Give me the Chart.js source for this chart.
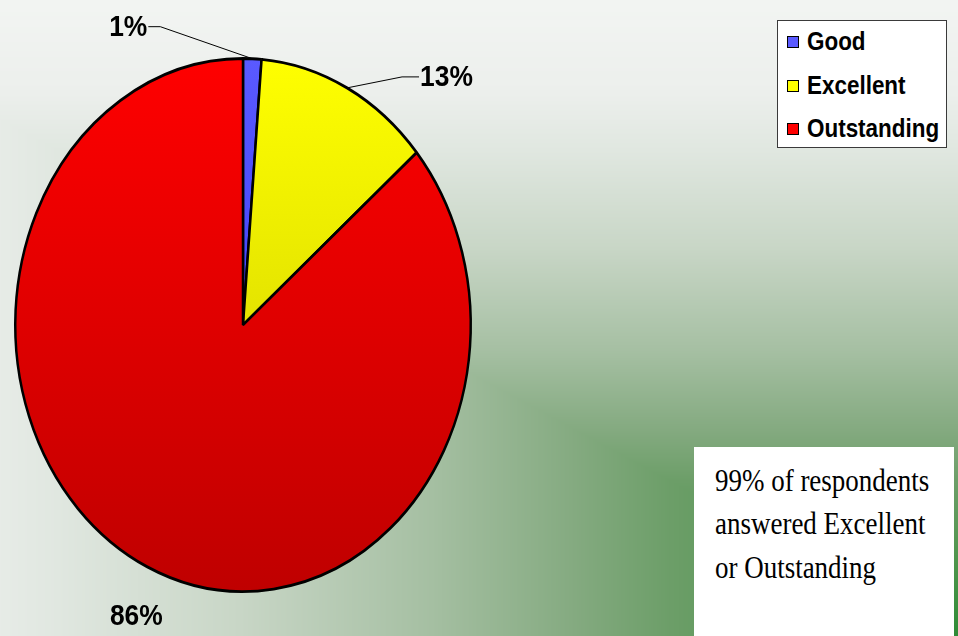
<!DOCTYPE html>
<html>
<head>
<meta charset="utf-8">
<script src="https://cdn.jsdelivr.net/npm/chart.js@4/dist/chart.umd.min.js"></script>
<style>
html, body { margin: 0; padding: 0; width: 958px; height: 636px; overflow: hidden; }
#wrap { position: relative; width: 958px; height: 636px; }
#chart { position: absolute; left: 0; top: 0; }
#legend {
    position: absolute; left: 777px; top: 20px; width: 170px; height: 128px;
    background: #fff; border: 1px solid #3a3a3a; box-sizing: border-box;
}
.item { position: absolute; left: 9px; height: 30px; width: 200px; }
.item .box {
    position: absolute; left: 0; top: 9px; width: 12px; height: 12px;
    border: 1px solid #000; box-sizing: border-box;
}
.item .txt {
    position: absolute; left: 20px; top: 0; line-height: 30px; white-space: nowrap;
    font: bold 25.5px "Liberation Sans", Arial, sans-serif; color: #000;
    transform: scaleX(0.88); transform-origin: left center;
}
#note {
    position: absolute; left: 694px; top: 447px; width: 260px; height: 189px;
    background: #fff;
}
#note div {
    position: absolute; left: 21px; white-space: nowrap;
    font: 31px "Liberation Serif", "Times New Roman", serif; color: #000;
    transform: scaleX(0.87); transform-origin: left center;
}
</style>
</head>
<body>
<div id="wrap">
    <canvas id="chart" width="958" height="636"></canvas>
    <div id="legend"></div>
    <div id="note">
        <div style="top:16px">99% of respondents</div>
        <div style="top:59px">answered Excellent</div>
        <div style="top:103px">or Outstanding</div>
    </div>
</div>
<script>
// data
var categories = ['Good', 'Excellent', 'Outstanding'];
var shares = [1.3, 12.5, 86.2];
var shareLabels = ['1%', '13%', '86%'];

// look
var topColors = ['#5a5aff', '#ffff00', '#ff0000'];
var bottomColors = ['#2c2cf0', '#c8c800', '#bf0000'];
var stretchY = 268 / 229;

// legend
var legend = document.getElementById('legend');
for (var i = 0; i < categories.length; i++) {
    var it = document.createElement('div');
    it.className = 'item';
    it.style.top = (6 + i * 43.5) + 'px';
    it.innerHTML = '<div class="box" style="background:' + topColors[i] + '"></div>' +
        '<div class="txt">' + categories[i] + '</div>';
    legend.appendChild(it);
}

// rectangular gradient from the bottom right corner
var bgStops = [
    [0.00, [46, 139, 54]],
    [0.15, [79, 149, 77]],
    [0.30, [108, 158, 104]],
    [0.40, [132, 170, 128]],
    [0.55, [165, 191, 162]],
    [0.75, [200, 214, 198]],
    [0.94, [224, 231, 224]],
    [1.05, [236, 239, 236]],
    [1.25, [243, 245, 243]]
];
function bgColor(t) {
    for (var k = 1; k < bgStops.length; k++) {
        if (t <= bgStops[k][0]) {
            var a = bgStops[k - 1], b = bgStops[k];
            var f = (t - a[0]) / (b[0] - a[0]);
            return [0, 1, 2].map(function (c) { return a[1][c] + (b[1][c] - a[1][c]) * f; });
        }
    }
    return bgStops[bgStops.length - 1][1];
}
var bgCanvas = document.createElement('canvas');
bgCanvas.width = 958; bgCanvas.height = 636;
(function () {
    var bctx = bgCanvas.getContext('2d');
    var img = bctx.createImageData(958, 636);
    for (var y = 0; y < 636; y++) {
        for (var x = 0; x < 958; x++) {
            var u = (958 - x) / 958, v = (636 - y) / 517;
            var t = Math.max(u, v);
            var c = bgColor(t);
            var p = (y * 958 + x) * 4;
            img.data[p] = c[0]; img.data[p + 1] = c[1]; img.data[p + 2] = c[2]; img.data[p + 3] = 255;
        }
    }
    bctx.putImageData(img, 0, 0);
})();

var backgroundPlugin = {
    id: 'bg',
    beforeDraw: function (chart) {
        chart.ctx.drawImage(bgCanvas, 0, 0);
    }
};

// squash the round pie into the tall ellipse of the original
var ellipsePlugin = {
    id: 'ellipse',
    beforeDatasetsDraw: function (chart) {
        var arc = chart.getDatasetMeta(0).data[0];
        var ctx = chart.ctx;
        ctx.save();
        ctx.translate(arc.x, arc.y);
        ctx.scale(1, stretchY);
        ctx.translate(-arc.x, -arc.y);
    },
    afterDatasetsDraw: function (chart) {
        chart.ctx.restore();
    }
};

// percent labels with leader lines
var labelLayout = [
    { dx: -92, dy: -32, hx: -12, align: 'right' },
    { dx: 55, dy: -11, hx: 17, align: 'left' },
    { dx: -11, dy: 49, hx: 0, align: 'center' }
];
var labelPlugin = {
    id: 'pctLabels',
    afterDraw: function (chart) {
        var ctx = chart.ctx;
        var arcs = chart.getDatasetMeta(0).data;
        ctx.save();
        ctx.font = 'bold 30px "Liberation Sans", Arial, sans-serif';
        ctx.textBaseline = 'middle';
        ctx.fillStyle = '#000';
        ctx.strokeStyle = '#000';
        ctx.lineWidth = 1;
        arcs.forEach(function (arc, i) {
            var p = arc.getProps(['x', 'y', 'startAngle', 'endAngle', 'outerRadius'], true);
            var mid = (p.startAngle + p.endAngle) / 2;
            var ax = p.x + Math.cos(mid) * p.outerRadius;
            var ay = p.y + Math.sin(mid) * p.outerRadius * stretchY;
            var L = labelLayout[i];
            var ex = ax + L.dx, ey = ay + L.dy;
            var tx = ex + L.hx;
            if (L.hx !== 0) {
                ctx.beginPath();
                ctx.moveTo(ax, ay);
                ctx.lineTo(ex, ey);
                ctx.lineTo(tx, ey);
                ctx.stroke();
                tx += L.hx > 0 ? 1 : -1;
            }
            ctx.save();
            ctx.translate(tx, ey);
            ctx.scale(0.88, 1);
            ctx.textAlign = L.align;
            ctx.fillText(shareLabels[i], 0, 1);
            ctx.restore();
        });
        ctx.restore();
    }
};

function sliceFill(context) {
    var area = context.chart.chartArea;
    if (!area) return topColors[context.dataIndex];
    var g = context.chart.ctx.createLinearGradient(0, area.top, 0, area.bottom);
    g.addColorStop(0, topColors[context.dataIndex]);
    g.addColorStop(1, bottomColors[context.dataIndex]);
    return g;
}

var chart = new Chart(document.getElementById('chart'), {
    type: 'pie',
    data: {
        labels: categories,
        datasets: [{
            data: shares,
            backgroundColor: sliceFill,
            borderColor: '#000',
            borderWidth: 2.5,
            clip: false
        }]
    },
    options: {
        responsive: false,
        animation: false,
        events: [],
        layout: { padding: { left: 14, right: 486, top: 96, bottom: 82 } },
        plugins: {
            legend: { display: false },
            tooltip: { enabled: false }
        }
    },
    plugins: [backgroundPlugin, ellipsePlugin, labelPlugin]
});
</script>
</body>
</html>
